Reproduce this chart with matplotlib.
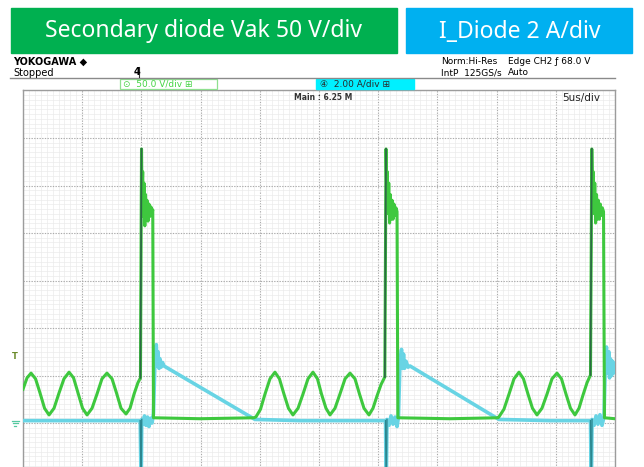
import numpy as np
import matplotlib
matplotlib.use('Agg')
import matplotlib.pyplot as plt
from matplotlib.patches import Rectangle
from matplotlib.ticker import MultipleLocator

# Settings
OUT_FILE = 'out.png'
FIG_W, FIG_H, DPI = 644, 467, 100
TIME_PER_DIV = 5.0      # us/div
VOLT_PER_DIV = 50.0     # Vak scale
AMP_PER_DIV = 2.0       # I_Diode scale
GROUND_DIV = -2.95      # ground marker of both channels (div)
TRIG_LEVEL = 68.0       # V, Edge CH2

COLOR_V = '#3ec83e'
COLOR_V_EDGE = '#2d6a45'
COLOR_I = '#68d4e4'
COLOR_I_EDGE = '#2b8790'
GRID_MAJOR = '#ababab'
GRID_MINOR = '#ebebeb'

# Secondary diode Vak (time in us, voltage in V)
vak_t = [0.00, 0.34, 0.68, 1.06, 1.44, 1.82, 2.20, 2.62, 3.04, 3.46, 3.89, 4.27,
         4.65, 5.03, 5.41, 5.83, 6.25, 6.67, 7.09, 7.52, 7.90, 8.28, 8.70, 9.04,
         9.38, 9.71, 9.92, 10.01,
         10.05, 10.11, 10.17, 10.22, 10.29, 10.35, 10.41, 10.47, 10.56, 10.64,
         10.73, 10.81, 10.90, 10.96, 11.02, 14.95, 19.51,
         19.68, 20.06, 20.44, 20.86, 21.28, 21.66, 22.04, 22.42, 22.80, 23.23,
         23.65, 24.07, 24.49, 24.87, 25.21, 25.59, 25.93, 26.35, 26.77, 27.20,
         27.62, 28.04, 28.42, 28.80, 29.22, 29.56, 29.90, 30.24, 30.56, 30.66,
         30.71, 30.77, 30.83, 30.89, 30.96, 31.02, 31.10, 31.17, 31.25, 31.33,
         31.42, 31.50, 31.59, 31.66, 36.06, 40.12,
         40.20, 40.62, 41.05, 41.47, 41.89, 42.27, 42.65, 43.03, 43.41, 43.83,
         44.26, 44.68, 45.10, 45.48, 45.86, 46.24, 46.62, 46.96, 47.30, 47.64,
         47.93, 48.04,
         48.10, 48.16, 48.23, 48.29, 48.36, 48.44, 48.51, 48.59, 48.68, 48.76,
         48.84, 48.93, 49.03, 49.11, 50.00]
vak_v = [33, 45, 50, 44, 29, 13, 6, 13, 29, 44, 51, 45,
         29, 13, 6, 13, 28, 44, 50, 44, 29, 13, 7, 13,
         28, 40, 45, 286,
         240, 262, 215, 250, 205, 238, 212, 232, 210, 228,
         215, 225, 218, 222, 3, 2, 3,
         4, 12, 28, 44, 51, 44, 28, 13, 6, 13,
         28, 44, 51, 44, 28, 13, 6, 13, 28, 44,
         50, 44, 28, 13, 6, 13, 26, 38, 46, 286,
         245, 262, 218, 250, 208, 238, 212, 232, 212, 228,
         216, 224, 220, 3, 2, 3,
         4, 12, 28, 44, 51, 44, 28, 13, 6, 13,
         28, 44, 50, 44, 28, 13, 6, 13, 27, 40,
         48, 286,
         245, 262, 218, 250, 208, 238, 212, 232, 212, 228,
         216, 224, 220, 3, 2]

# I_Diode (time in us, current in A)
idiode_t = [0.00, 9.90, 9.98, 10.03, 10.14, 10.26, 10.39, 10.52, 10.64, 10.77,
            10.90, 11.02, 11.15, 11.26, 11.33, 11.40, 11.49, 11.57, 11.66, 11.78,
            11.91, 19.59, 23.40, 30.62,
            30.68, 30.74, 30.91, 31.08, 31.25, 31.42, 31.59, 31.71, 31.84, 31.97,
            32.05, 32.14, 32.22, 32.35, 32.52, 32.69, 40.20, 44.51, 47.93,
            48.00, 48.06, 48.23, 48.40, 48.56, 48.73, 48.90, 49.07, 49.20, 49.28,
            49.37, 49.48, 49.54, 49.62, 49.71, 49.79, 49.87, 50.00]
idiode_a = [0.0, 0.0, -3.0, 0.05, -0.15, 0.2, -0.2, 0.15, -0.25, 0.1,
            -0.1, 0.3, 2.6, 3.2, 2.3, 2.9, 2.2, 2.6, 2.25, 2.45,
            2.3, 0.05, 0.0, 0.0,
            -3.0, 0.05, -0.2, 0.2, -0.15, 0.15, -0.25, 0.15, 2.5, 3.0,
            2.2, 2.8, 2.2, 2.5, 2.25, 2.3, 0.05, 0.0, 0.0,
            -3.0, 0.05, -0.2, 0.2, -0.15, 0.25, -0.2, 0.15, 2.7, 3.1,
            2.0, 2.9, 1.8, 2.6, 1.9, 2.5, 2.0, 2.4]


def to_div(values, per_div):
    return np.asarray(values, dtype=float) / per_div + GROUND_DIV


def draw_screen(ax):
    ax.set_xlim(0, 10 * TIME_PER_DIV)
    ax.set_ylim(-4, 4)
    ax.xaxis.set_major_locator(MultipleLocator(TIME_PER_DIV))
    ax.xaxis.set_minor_locator(MultipleLocator(TIME_PER_DIV / 10))
    ax.yaxis.set_major_locator(MultipleLocator(1))
    ax.yaxis.set_minor_locator(MultipleLocator(0.1))
    ax.grid(True, which='minor', color=GRID_MINOR, linewidth=0.5)
    ax.grid(True, which='major', color=GRID_MAJOR, linewidth=0.8,
            linestyle=(0, (1.2, 1.2)))
    ax.tick_params(which='both', length=0, labelbottom=False, labelleft=False)
    for spine in ax.spines.values():
        spine.set_color('#9c9c9c')
        spine.set_linewidth(1.0)
    ax.set_axisbelow(True)


def draw_traces(ax):
    t_v = np.asarray(vak_t)
    y_v = to_div(vak_v, VOLT_PER_DIV)
    t_i = np.asarray(idiode_t)
    y_i = to_div(idiode_a, AMP_PER_DIV)

    ax.plot(t_i, y_i, color=COLOR_I, linewidth=2.6, solid_joinstyle='round', zorder=3)
    # negative spikes drawn darker (fast edges)
    ia = np.asarray(idiode_a)
    for k in range(len(ia) - 1):
        if ia[k] < -1 or ia[k + 1] < -1:
            ax.plot(t_i[k:k + 2], y_i[k:k + 2], color=COLOR_I_EDGE, linewidth=1.0, zorder=5)

    ax.plot(t_v, y_v, color=COLOR_V, linewidth=2.2, solid_joinstyle='round', zorder=4)
    slope = np.diff(vak_v) / np.diff(vak_t)
    for k in np.where(slope > 1500)[0]:
        ax.plot(t_v[k:k + 2], y_v[k:k + 2], color=COLOR_V_EDGE, linewidth=1.3, zorder=5)

    # level markers left of the screen
    tr = ax.get_yaxis_transform()
    ax.text(-0.013, TRIG_LEVEL / VOLT_PER_DIV + GROUND_DIV, 'T', transform=tr,
            ha='center', va='center', fontsize=6, color='#6a8a2a', fontweight='bold',
            clip_on=False)
    # ground symbol (no installed font has the glyph), drawn as short strokes
    gy = GROUND_DIV - 0.04
    ax.plot([-0.019, -0.007], [gy + 0.04, gy + 0.04], transform=tr, color='#55c8a0',
            linewidth=0.9, clip_on=False)
    ax.plot([-0.017, -0.009], [gy - 0.02, gy - 0.02], transform=tr, color='#55c8a0',
            linewidth=0.9, clip_on=False)
    ax.plot([-0.015, -0.011], [gy - 0.08, gy - 0.08], transform=tr, color='#55c8a0',
            linewidth=0.9, clip_on=False)


def draw_header(ov):
    ov.set_xlim(0, FIG_W)
    ov.set_ylim(FIG_H, 0)
    ov.axis('off')
    # title boxes
    ov.add_patch(Rectangle((11, 8), 386, 45, color='#00b050'))
    ov.text(204, 31, 'Secondary diode Vak 50 V/div', color='white', fontsize=16.5,
            family='Noto Sans', ha='center', va='center')
    ov.add_patch(Rectangle((406, 8), 226, 45, color='#00b0f0'))
    ov.text(520, 32, 'I_Diode 2 A/div', color='white', fontsize=16.5,
            family='Noto Sans', ha='center', va='center')

    small = ['Liberation Sans Narrow', 'DejaVu Sans']
    ov.text(13, 62, 'YOKOGAWA \u25C6', fontsize=7, fontweight='bold', family=small, va='center')
    ov.text(13, 72.5, 'Stopped', fontsize=7, family=small, va='center')
    ov.plot([10, 615], [77.5, 77.5], color='#8a8a8a', linewidth=1)
    ov.text(134, 72, '4', fontsize=7, family=small, va='center', fontweight='bold')
    ov.plot([139, 139], [67, 77], color='#333333', linewidth=0.8)

    ov.text(441, 62, 'Norm:Hi-Res', fontsize=6.5, family=small, va='center')
    ov.text(441, 72.5, 'IntP  125GS/s', fontsize=6.5, family=small, va='center')
    ov.text(508, 62, 'Edge CH2 \u0192 68.0 V', fontsize=6.5, family=small, va='center')
    ov.text(508, 72.5, 'Auto', fontsize=6.5, family=small, va='center')

    # channel labels
    ov.add_patch(Rectangle((120, 78.5), 97, 10.5, facecolor='white',
                           edgecolor='#8fe08f', linewidth=0.9))
    ov.text(123, 84, '\u2299  50.0 V/div \u229E', color='#44d444', fontsize=6.5,
            family=small, va='center')
    ov.add_patch(Rectangle((316, 78.5), 98, 10.5, color='#00f0ff'))
    ov.text(320, 84, '\u2463  2.00 A/div \u229E', color='#2a2a2a', fontsize=6.5,
            family=small, va='center')

    ov.text(294, 97.5, 'Main : 6.25 M', fontsize=5.5, fontweight='bold', family=small,
            va='center', color='#333333')
    ov.text(562, 98.5, '5us/div', fontsize=7.5, family=small, va='center', color='#222222')


def main():
    fig = plt.figure(figsize=(FIG_W / DPI, FIG_H / DPI), dpi=DPI)
    fig.patch.set_facecolor('white')

    # screen area: 23..615 px wide, 90.5..470.5 px tall (bottom cut by the image)
    ax = fig.add_axes([23 / FIG_W, (FIG_H - 470.5) / FIG_H, 592 / FIG_W, 380 / FIG_H])
    draw_screen(ax)
    draw_traces(ax)

    ov = fig.add_axes([0, 0, 1, 1], zorder=10)
    ov.patch.set_alpha(0)
    draw_header(ov)

    fig.savefig(OUT_FILE, dpi=DPI, facecolor='white')
    plt.close(fig)


if __name__ == '__main__':
    main()
